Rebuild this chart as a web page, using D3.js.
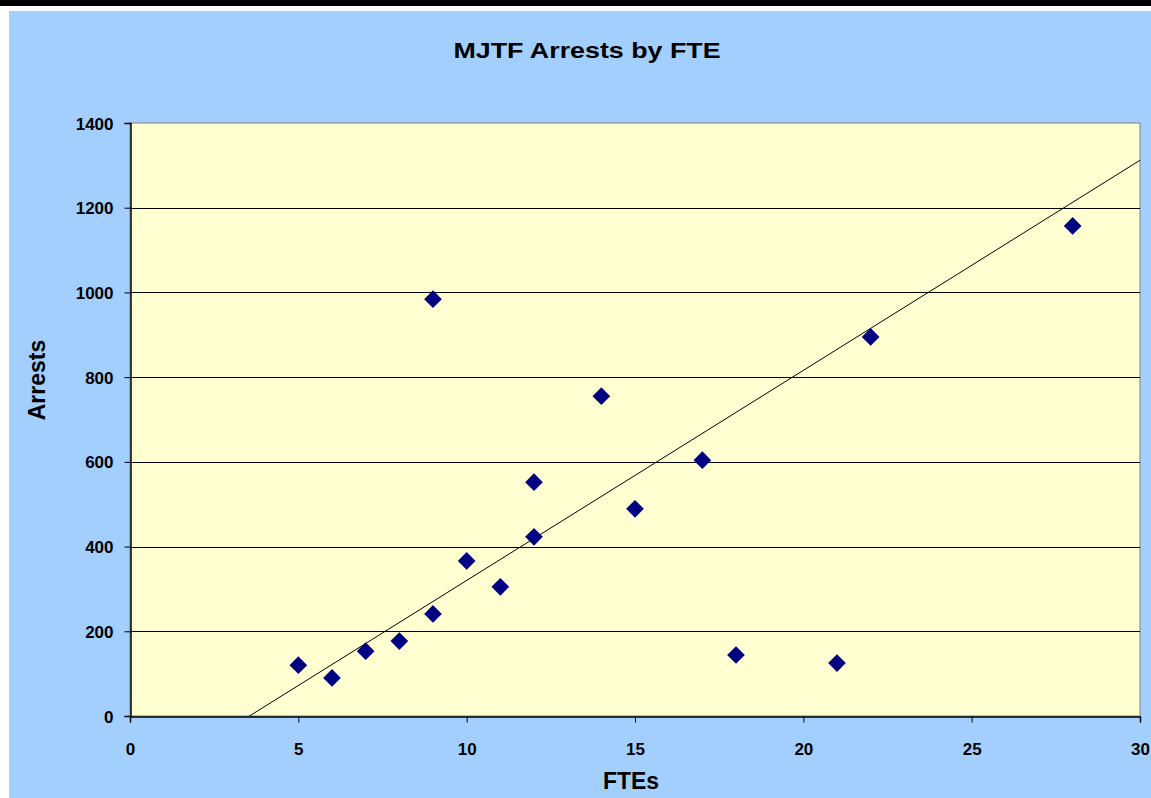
<!DOCTYPE html>
<html>
<head>
<meta charset="utf-8">
<script src="https://cdn.jsdelivr.net/npm/d3@7"></script>
<style>
  html, body { margin: 0; padding: 0; background: #ffffff; }
  svg { display: block; }
  text { font-family: "Liberation Sans", Arial, sans-serif; font-weight: bold; fill: #000; }
</style>
</head>
<body>
<svg id="chart" width="1151" height="798"></svg>
<script>
// FTEs per task force and the arrests they made
const ftes    = [5, 6, 7, 8, 9, 9, 10, 11, 12, 12, 14, 15, 17, 18, 21, 22, 28];
const arrests = [120, 90, 153, 177, 241, 984, 366, 305, 423, 552, 755, 489, 604, 144, 125, 895, 1157];

// Linear trendline: arrests = slope * FTEs + intercept
const trendSlope = 49.6;
const trendIntercept = -176;

const xTicks = [0, 5, 10, 15, 20, 25, 30];
const yTicks = [0, 200, 400, 600, 800, 1000, 1200, 1400];

const titleText = "MJTF Arrests by FTE";
const xTitle = "FTEs";
const yTitle = "Arrests";

const W = 1151, H = 798;
const plot = { left: 130, right: 1140, top: 123, bottom: 716 };

const svg = d3.select("#chart");

// page frame: black strip on top, chart area in light blue
svg.append("rect").attr("x", 0).attr("y", 0).attr("width", W).attr("height", 6).attr("fill", "#000");
svg.append("rect").attr("x", 9).attr("y", 11).attr("width", W - 9).attr("height", H - 11).attr("fill", "#a3cfff");

const x = d3.scaleLinear().domain([0, 30]).range([plot.left, plot.right]);
const y = d3.scaleLinear().domain([0, 1400]).range([plot.bottom, plot.top]);

// plot area
svg.append("rect")
  .attr("x", plot.left).attr("y", plot.top)
  .attr("width", plot.right - plot.left).attr("height", plot.bottom - plot.top)
  .attr("fill", "#ffffd2").attr("stroke", "#808080").attr("stroke-width", 1);

// horizontal gridlines
svg.append("g").selectAll("line")
  .data(yTicks.filter(v => v > 0 && v < 1400))
  .join("line")
  .attr("x1", plot.left).attr("x2", plot.right)
  .attr("y1", d => Math.round(y(d)) + 0.5).attr("y2", d => Math.round(y(d)) + 0.5)
  .attr("stroke", "#000").attr("stroke-width", 1);

// trendline, clipped to the plot area
svg.append("clipPath").attr("id", "plotClip")
  .append("rect")
  .attr("x", plot.left).attr("y", plot.top)
  .attr("width", plot.right - plot.left).attr("height", plot.bottom - plot.top);

const trendX = x.domain();
svg.append("line")
  .attr("clip-path", "url(#plotClip)")
  .attr("x1", x(trendX[0])).attr("y1", y(trendSlope * trendX[0] + trendIntercept))
  .attr("x2", x(trendX[1])).attr("y2", y(trendSlope * trendX[1] + trendIntercept))
  .attr("stroke", "#000").attr("stroke-width", 1);

// axes
const yAxis = svg.append("g")
  .attr("transform", `translate(${plot.left + 0.5},0)`)
  .call(d3.axisLeft(y).tickValues(yTicks).tickSize(6).tickPadding(11).tickFormat(d3.format("d")));
const xAxis = svg.append("g")
  .attr("transform", `translate(0,${plot.bottom + 0.5})`)
  .call(d3.axisBottom(x).tickValues(xTicks).tickSize(6).tickPadding(20).tickFormat(d3.format("d")));

[yAxis, xAxis].forEach(g => {
  g.select(".domain").attr("stroke", "#000").attr("stroke-width", 1.5);
  g.selectAll(".tick line").attr("stroke", "#000");
  g.selectAll("text")
    .attr("font-size", 17)
    .attr("font-family", "Liberation Sans, Arial, sans-serif")
    .attr("font-weight", "bold")
    .attr("fill", "#000");
});
yAxis.selectAll(".tick text").attr("dy", "0.36em");

// data points as diamonds
const diamond = d3.symbol().type(d3.symbolDiamond2).size(200);
svg.append("g").selectAll("path")
  .data(ftes.map((f, i) => ({ f, a: arrests[i] })))
  .join("path")
  .attr("transform", d => `translate(${x(d.f)},${y(d.a)})`)
  .attr("d", diamond)
  .attr("fill", "#000080");

// titles
svg.append("text")
  .attr("transform", "translate(587,58) scale(1.22,1)")
  .attr("text-anchor", "middle")
  .attr("font-size", 22)
  .text(titleText);

svg.append("text")
  .attr("x", 631).attr("y", 789)
  .attr("text-anchor", "middle")
  .attr("font-size", 23)
  .text(xTitle);

svg.append("text")
  .attr("transform", "translate(45,380) rotate(-90)")
  .attr("text-anchor", "middle")
  .attr("font-size", 23)
  .text(yTitle);
</script>
</body>
</html>
